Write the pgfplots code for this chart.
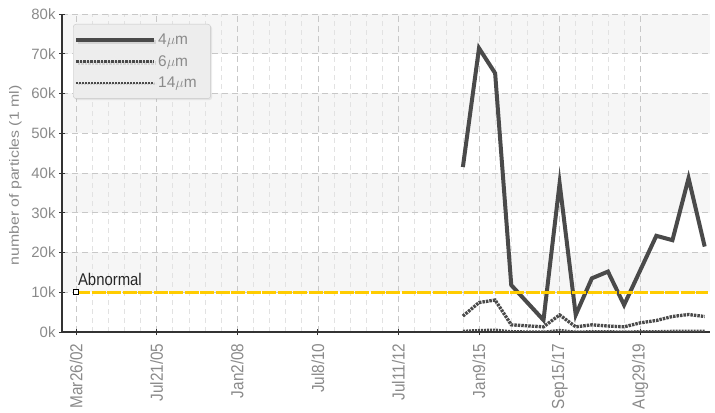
\documentclass[border=0pt]{standalone}
\usepackage{pgfplots}
\pgfplotsset{compat=1.18}
\usepackage{fontspec}
\setmainfont{Liberation Sans}
\newfontfamily\condfont{Liberation Sans}[FakeStretch=0.88]
\newfontfamily\widefont{Liberation Sans}[FakeStretch=1.18]
\usetikzlibrary{shadows}
\definecolor{lblgray}{HTML}{8A8A8A}
\definecolor{linegray}{HTML}{4A4A4A}
\definecolor{abnyellow}{HTML}{FFCC00}
\definecolor{bandgray}{HTML}{F6F6F6}
\definecolor{gridgray}{HTML}{C8C8C8}
\definecolor{minorgray}{HTML}{E2E2E2}
\begin{document}
\begin{tikzpicture}
\begin{axis}[
  set layers,
  scale only axis,
  width=648bp, height=318bp,
  xmin=-0.174, xmax=7.866,
  ymin=0, ymax=80000,
  axis x line=bottom, axis y line=left,
  axis line style={-, draw=black!80, line width=1.1pt},
  xtick={0,1,2,3,4,5,6,7},
  xticklabels={Mar26/02,Jul21/05,Jan2/08,Jul8/10,Jul11/12,Jan9/15,Sep15/17,Aug29/19},
  ytick={0,10000,20000,30000,40000,50000,60000,70000,80000},
  yticklabels={0k,10k,20k,30k,40k,50k,60k,70k,80k},
  scaled y ticks=false,
  minor x tick num=4,
  tick align=center,
  major tick length=6bp,
  minor tick length=0pt,
  tick style={black!80, line width=1pt},
  xticklabel shift=5bp,
  x tick label style={rotate=90, anchor=east, font=\condfont\fontsize{17.5}{19}\selectfont, text=lblgray},
  y tick label style={font=\fontsize{15}{17}\selectfont, text=lblgray},
  /pgf/number format/assume math mode=true,
  xmajorgrids, ymajorgrids, xminorgrids,
  major grid style={gridgray, dash pattern=on 6bp off 4bp, line width=0.6pt},
  minor grid style={minorgray, dash pattern=on 5bp off 4bp, line width=0.6pt},
  ylabel={number of particles (1 ml)},
  ylabel style={font=\widefont\fontsize{13.5}{15}\selectfont, text=lblgray, at={(axis description cs:-0.0718,0.492)}, anchor=center},
  legend style={at={(0.017,0.9686)}, anchor=north west, fill=black!7, draw=black!22,
    rounded corners=3bp, font=\fontsize{15.5}{17}\selectfont, text=lblgray,
    drop shadow={opacity=0.15, shadow xshift=1.5bp, shadow yshift=-1.5bp},
    inner xsep=1bp, inner ysep=8bp, row sep=5bp},
  legend cell align=left,
  legend image code/.code={\draw[#1] (0bp,0bp) -- (78bp,0bp);},
]
\addplot[fill=bandgray, draw=none, on layer=axis background, forget plot] coordinates {(-0.174,10000) (7.866,10000) (7.866,20000) (-0.174,20000)} -- cycle;
\addplot[fill=bandgray, draw=none, on layer=axis background, forget plot] coordinates {(-0.174,30000) (7.866,30000) (7.866,40000) (-0.174,40000)} -- cycle;
\addplot[fill=bandgray, draw=none, on layer=axis background, forget plot] coordinates {(-0.174,50000) (7.866,50000) (7.866,60000) (-0.174,60000)} -- cycle;
\addplot[fill=bandgray, draw=none, on layer=axis background, forget plot] coordinates {(-0.174,70000) (7.866,70000) (7.866,80000) (-0.174,80000)} -- cycle;
\addplot[linegray, line width=4bp, line join=miter] coordinates {
(4.8,41500) (5.0,71400) (5.2,65100) (5.4,11800) (5.8,3000) (6.0,37400)
(6.2,4300) (6.4,13500) (6.6,15200) (6.8,6800) (7.2,24200) (7.4,23100)
(7.6,38700) (7.8,21500)};
\addlegendentry{4$\mu$m}
\addplot[linegray, line width=3.3bp, dash pattern=on 2.5bp off 1bp] coordinates {
(4.8,4000) (5.0,7400) (5.2,8050) (5.4,1800) (5.8,1300) (6.0,4300)
(6.2,1300) (6.4,1800) (6.6,1500) (6.8,1300) (7.0,2300) (7.2,2900)
(7.4,3900) (7.6,4400) (7.8,3900)};
\addlegendentry{6$\mu$m}
\addplot[linegray, line width=2.2bp, dash pattern=on 2bp off 1bp] coordinates {
(4.8,300) (5.0,500) (5.2,600) (5.4,200) (5.8,100) (6.0,500)
(6.2,100) (6.4,200) (6.6,200) (6.8,100) (7.0,200) (7.2,200)
(7.4,300) (7.6,300) (7.8,300)};
\addlegendentry{14$\mu$m\hspace*{11bp}\rule[-12bp]{0pt}{0pt}}
\addplot[abnyellow, line width=3.2bp, dash pattern=on 14bp off 1.5bp, forget plot] coordinates {(0,10000) (7.84,10000)};
\addplot[only marks, mark=square*, mark size=2.5bp, mark options={fill=white, draw=black, line width=0.8pt}, forget plot] coordinates {(0,10000)};
\node[anchor=south west, font=\condfont\fontsize{17}{19}\selectfont, text=black!85, inner sep=1bp] at (axis cs:0.01,11300) {Abnormal};
\end{axis}
\pgfresetboundingbox
\useasboundingbox (-62bp,-81bp) rectangle (653bp,332bp);
\end{tikzpicture}
\end{document}
